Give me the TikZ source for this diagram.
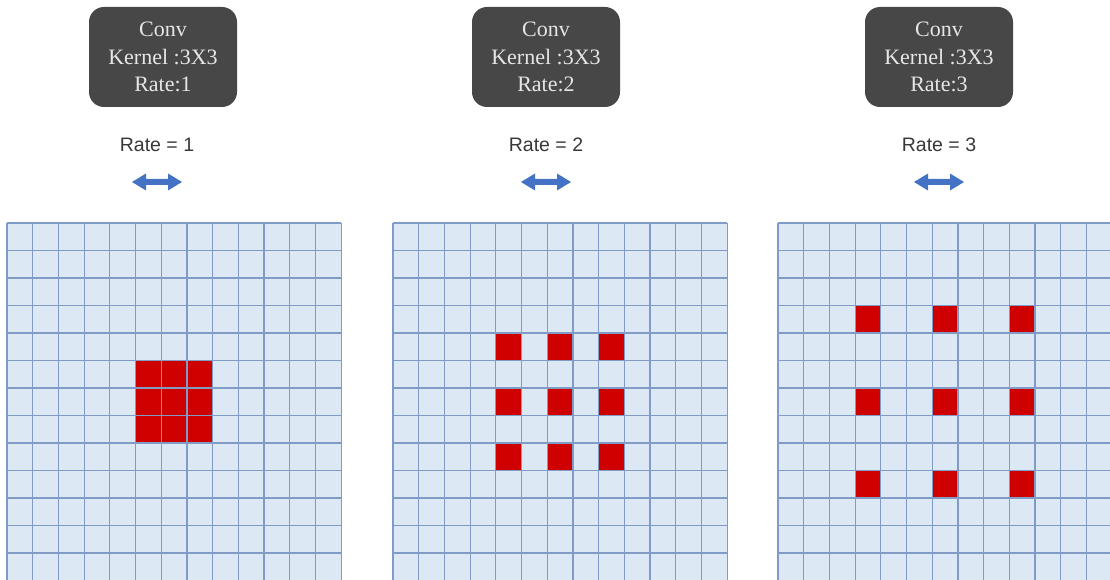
\documentclass[tikz,border=0pt]{standalone}
\usepackage{fontspec}
\setmainfont{Liberation Serif}
\newfontfamily\labelfont{Liberation Sans}
\definecolor{boxgray}{HTML}{474747}
\definecolor{boxtext}{HTML}{E6E6E6}
\definecolor{cellfill}{HTML}{DDE8F5}
\definecolor{gridline}{HTML}{7F9BC6}
\definecolor{kred}{HTML}{CE0000}
\definecolor{arrowblue}{HTML}{4472C4}
\definecolor{labeltext}{HTML}{383838}
\tikzset{
  convbox/.style={rounded corners=15pt, fill=boxgray, text=boxtext, minimum width=148pt,
    minimum height=100pt, align=center, inner sep=0pt,
    font=\fontsize{22}{27.5}\selectfont},
  ratelabel/.style={text=labeltext, font=\labelfont\fontsize{19.5}{22}\selectfont, inner sep=0pt},
  gridln/.style={draw=gridline, line width=1.2pt},
  redcell/.style={fill=kred},
  dblarrow/.style={fill=arrowblue}
}
\begin{document}
\begin{tikzpicture}[x=1pt,y=-1pt]
\useasboundingbox (0,0) rectangle (1110,580);
\def\cw{25.7}
\def\ch{27.5}
\def\gtop{223}
% boxes, labels and arrows
\foreach \bx/\lx/\r in {163/157/1, 546/546/2, 939/939/3}{
  \node[convbox] (box\r) at (\bx,57) {Conv\\Kernel :3X3\\Rate:\r};
  \node[ratelabel] (lab\r) at (\lx,145) {Rate = \r};
  \fill[dblarrow] (\lx-25,182) -- (\lx-11,173.5) -- (\lx-11,179) -- (\lx+11,179) -- (\lx+11,173.5)
     -- (\lx+25,182) -- (\lx+11,190.5) -- (\lx+11,185) -- (\lx-11,185) -- (\lx-11,190.5) -- cycle;
}
% grids
\foreach \gx/\cells in {
  7/{5/5,6/5,7/5,5/6,6/6,7/6,5/7,6/7,7/7},
  393/{4/4,6/4,8/4,4/6,6/6,8/6,4/8,6/8,8/8},
  778/{3/3,6/3,9/3,3/6,6/6,9/6,3/9,6/9,9/9}}{
  \fill[cellfill] (\gx,\gtop) rectangle (\gx+13*\cw,\gtop+13*\ch);
  \foreach \c/\rw in \cells{
    \fill[redcell] (\gx+\c*\cw,\gtop+\rw*\ch) rectangle (\gx+\c*\cw+\cw,\gtop+\rw*\ch+\ch);
  }
  \foreach \i in {0,...,13}{
    \draw[gridln] (\gx+\i*\cw,\gtop) -- (\gx+\i*\cw,\gtop+13*\ch);
    \draw[gridln] (\gx,\gtop+\i*\ch) -- (\gx+13*\cw,\gtop+\i*\ch);
  }
}
\end{tikzpicture}
\end{document}
